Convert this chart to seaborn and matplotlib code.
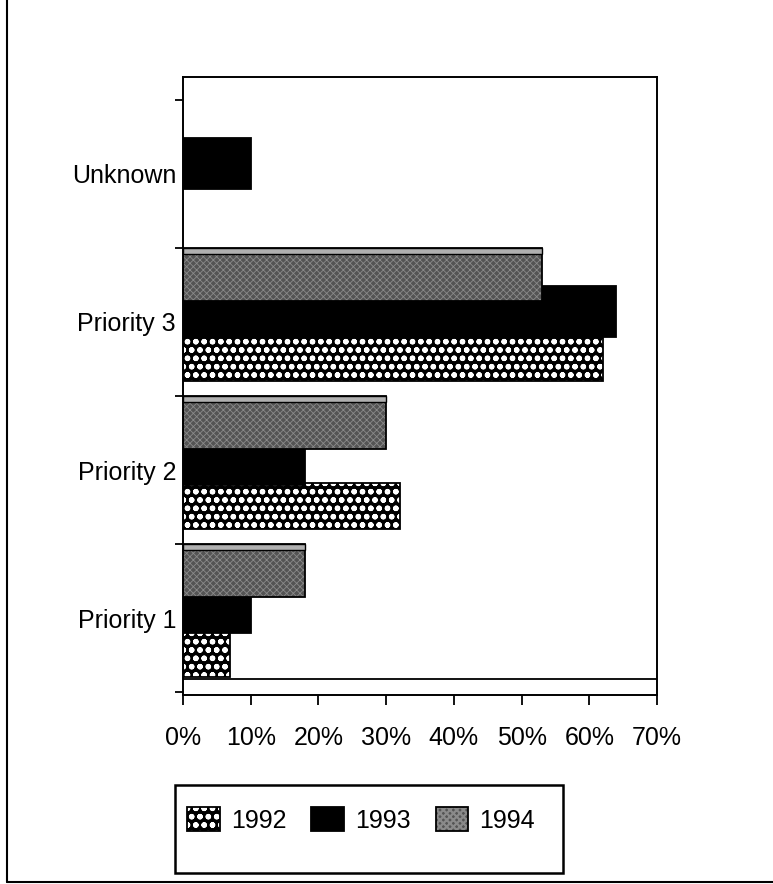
import matplotlib
matplotlib.use("Agg")
import matplotlib.pyplot as plt
import matplotlib.colors as mcolors
from matplotlib.patches import Rectangle
from matplotlib.lines import Line2D
from matplotlib.ticker import PercentFormatter, FixedLocator
import seaborn as sns
import pandas as pd

# Share of cases by priority class and year (percent)
categories = ["Unknown", "Priority 3", "Priority 2", "Priority 1"]
years = ["1992", "1993", "1994"]
pct_1992 = [None, 62, 32, 7]
pct_1993 = [10, 64, 18, 10]
pct_1994 = [None, 53, 30, 18]
x_ticks = [0, 10, 20, 30, 40, 50, 60, 70]

rows = []
for year, vals in zip(years, [pct_1992, pct_1993, pct_1994]):
    for cat, v in zip(categories, vals):
        if v is not None:
            rows.append({"category": cat, "year": year, "pct": v})
df = pd.DataFrame(rows)

sns.set_theme(style="white")
plt.rcParams["font.family"] = ["Liberation Sans", "DejaVu Sans"]
plt.rcParams["text.color"] = "black"
plt.rcParams["hatch.linewidth"] = 1.6

FS = 18

fig = plt.figure(figsize=(7.73, 8.84), dpi=100)
ax = fig.add_axes([183 / 773, 1 - 695 / 884, 474 / 773, 618 / 884])

sns.barplot(data=df, x="pct", y="category", hue="year", order=categories,
            hue_order=years, orient="h", ax=ax, legend=False,
            palette=["black", "black", "#5a5a5a"], saturation=1)

# per-year bar styling: vertical offset within the category, bar height, look
style = {
    "1992": dict(offset=0.245, height=0.31, face="black", hatch="oo",
                 hatch_color="white", hatch_lw=1.6),
    "1993": dict(offset=-0.07, height=0.34, face="black", hatch=None,
                 hatch_color=None, hatch_lw=None),
    "1994": dict(offset=-0.32, height=0.36, face="#545454", hatch="xxxxx",
                 hatch_color="#8a8a8a", hatch_lw=0.6),
}

legend_handles = []
for year, container in zip(years, ax.containers):
    st = style[year]
    for p in container.patches:
        center = p.get_y() + p.get_height() / 2
        cat = round(center)
        p.set_height(st["height"])
        p.set_y(cat + st["offset"] - st["height"] / 2)
        p.set_facecolor(st["face"])
        p.set_edgecolor("black")
        p.set_linewidth(1.3)
        if st["hatch"]:
            p.set_hatch(st["hatch"])
            p._hatch_color = mcolors.to_rgba(st["hatch_color"])
            if hasattr(p, "set_hatch_linewidth"):
                p.set_hatch_linewidth(st["hatch_lw"])
            else:
                p._hatch_linewidth = st["hatch_lw"]
        if year == "1994":
            strip = Rectangle((p.get_x(), p.get_y()), p.get_width(), 0.04,
                              facecolor="#b0b0b0", edgecolor="black",
                              linewidth=1.0, zorder=p.get_zorder() + 0.1)
            ax.add_patch(strip)
    legend_handles.append(container.patches[0])

ax.set_xlim(0, 70)
ax.set_ylim(3.52, -0.655)
ax.xaxis.set_major_locator(FixedLocator(x_ticks))
ax.xaxis.set_major_formatter(PercentFormatter(decimals=0))
ax.set_xlabel("")
ax.set_ylabel("")

# inner bottom edge of the plotting box
ax.axhline(3.41, color="black", linewidth=1.3, zorder=5)

ax.yaxis.set_minor_locator(FixedLocator([-0.5, 0.5, 1.5, 2.5, 3.5]))
ax.tick_params(axis="y", which="major", length=0, pad=5, labelsize=FS,
               labelcolor="black", left=True)
ax.tick_params(axis="y", which="minor", length=6, width=1.3, direction="out",
               color="black", left=True)
ax.tick_params(axis="x", which="major", length=7, width=1.3, direction="out",
               color="black", pad=15, labelsize=FS, labelcolor="black", bottom=True)

for s in ax.spines.values():
    s.set_visible(True)
    s.set_color("black")
    s.set_linewidth(1.4)

# legend box
fig.patches.append(Rectangle((175 / 773, 1 - 873 / 884), 388 / 773, 88 / 884,
                             transform=fig.transFigure, fill=False,
                             edgecolor="black", linewidth=1.8))
fig.legend(handles=legend_handles, labels=years, ncol=3, frameon=False,
           loc="center left", bbox_to_anchor=(187 / 773, 1 - 820 / 884),
           fontsize=FS, handlelength=1.3, handleheight=1.1,
           handletextpad=0.45, columnspacing=1.0, borderpad=0,
           borderaxespad=0, labelcolor="black")

# outer page frame
fig.add_artist(Line2D([7 / 773, 7 / 773], [1 - 882 / 884, 1.0],
                      transform=fig.transFigure, color="black", linewidth=1.5))
fig.add_artist(Line2D([7 / 773, 1.0], [1 - 882 / 884, 1 - 882 / 884],
                      transform=fig.transFigure, color="black", linewidth=1.5))

fig.savefig("out.png", dpi=100, facecolor="white")
